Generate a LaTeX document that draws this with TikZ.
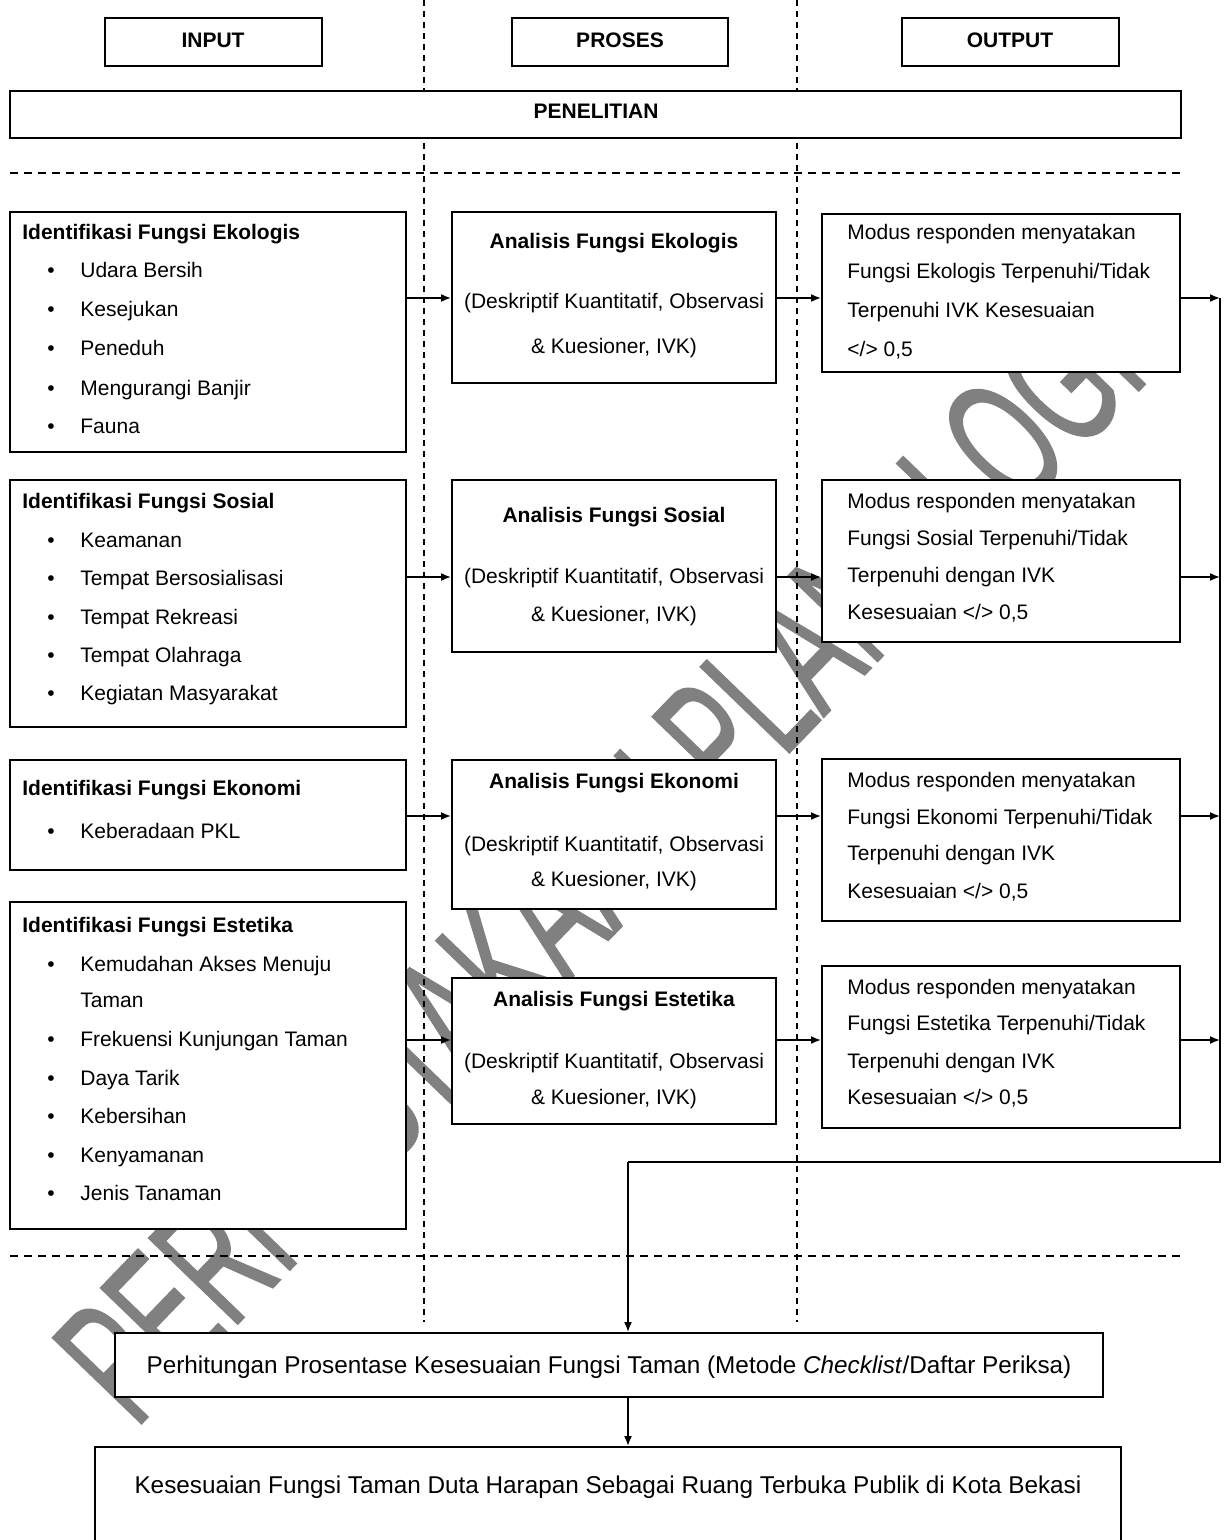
\documentclass[tikz,border=0pt]{standalone}
\usepackage{fontspec}
\setmainfont{Liberation Sans}
\newfontfamily\wmfont[FakeBold=1.2]{Liberation Sans}
\usetikzlibrary{arrows.meta,fit}
\newcommand\fsz{\fontsize{10.5}{12}\selectfont}
\newcommand\fszb{\fontsize{12.15}{14}\selectfont}
\newcommand\wmsz{\fontsize{89.5}{90}\selectfont}
\begin{document}
\begin{tikzpicture}[x=0.5pt,y=-0.5pt,
  box/.style={draw=black,line width=1pt,fill=white,inner sep=0pt},
  tl/.style={anchor=base west,inner sep=0pt,font=\fsz},
  tb/.style={anchor=base west,inner sep=0pt,font=\fsz\bfseries},
  tc/.style={anchor=base,inner sep=0pt,font=\fsz},
  tcb/.style={anchor=base,inner sep=0pt,font=\fsz\bfseries},
  tbig/.style={anchor=base,inner sep=0pt,font=\fszb},
  bul/.style={anchor=base west,inner sep=0pt,font=\fsz},
  arr/.style={line width=0.8pt,-{Latex[length=5pt,width=4pt]}},
  ln/.style={line width=0.8pt},
  hdash/.style={line width=0.6pt,dash pattern=on 4pt off 3pt},
  vdash/.style={line width=0.6pt,dash pattern=on 3pt off 2.5pt}]
\clip (0,0) rectangle (1226,1540);
\fill[white] (0,0) rectangle (1226,1540);

% watermark
\node[anchor=base west,rotate=46,inner sep=0pt,text=black!50,font=\wmfont\wmsz] (wm) at (135,1430)
  {\scalebox{0.58}[1]{PERPUSTAKAAN PLANOLOGI}};

% dashed guide lines
\coordinate (v1t) at (424,0);  \coordinate (v1b) at (424,1322);
\coordinate (v2t) at (797,0);  \coordinate (v2b) at (797,1322);
\coordinate (h1l) at (10,173); \coordinate (h1r) at (1181,173);
\coordinate (h2l) at (10,1256); \coordinate (h2r) at (1181,1256);
\draw[vdash] (v1t) -- (v1b);
\draw[vdash] (v2t) -- (v2b);
\draw[hdash] (h1l) -- (h1r);
\draw[hdash] (h2l) -- (h2r);

% header boxes
\node[box,fit={(105,18)(322,66)}] (hin) {};
\node[box,fit={(512,18)(728,66)}] (hpr) {};
\node[box,fit={(902,18)(1119,66)}] (hout) {};
\node[box,fit={(10,91)(1181,138)}] (pen) {};
\node[tcb] (thin) at (213,48) {INPUT};
\node[tcb] (thpr) at (620,48) {PROSES};
\node[tcb] (thout) at (1010,48) {OUTPUT};
\node[tcb] (tpen) at (596,119) {PENELITIAN};

% input boxes
\node[box,fit={(10,212)(406,452)}] (in1) {};
\node[box,fit={(10,480)(406,727)}] (in2) {};
\node[box,fit={(10,760)(406,870)}] (in3) {};
\node[box,fit={(10,902)(406,1229)}] (in4) {};
% process boxes
\node[box,fit={(452,212)(776,383)}] (pr1) {};
\node[box,fit={(452,480)(776,652)}] (pr2) {};
\node[box,fit={(452,760)(776,909)}] (pr3) {};
\node[box,fit={(452,978)(776,1124)}] (pr4) {};
% output boxes
\node[box,fit={(822,214)(1180,372)}] (ou1) {};
\node[box,fit={(822,480)(1180,642)}] (ou2) {};
\node[box,fit={(822,759)(1180,921)}] (ou3) {};
\node[box,fit={(822,966)(1180,1128)}] (ou4) {};
% bottom boxes
\node[box,fit={(115,1333)(1103,1397)}] (calc) {};
\node[box,fit={(95,1447)(1121,1560)}] (res) {};

% input texts
\node[tb] (i1h) at (22,240) {Identifikasi Fungsi Ekologis};
\node[bul] (i1b1) at (47,278) {\textbullet}; \node[tl] (i1t1) at (80,278) {Udara Bersih};
\node[bul] (i1b2) at (47,317) {\textbullet}; \node[tl] (i1t2) at (80,317) {Kesejukan};
\node[bul] (i1b3) at (47,356) {\textbullet}; \node[tl] (i1t3) at (80,356) {Peneduh};
\node[bul] (i1b4) at (47,395) {\textbullet}; \node[tl] (i1t4) at (80,395) {Mengurangi Banjir};
\node[bul] (i1b5) at (47,433) {\textbullet}; \node[tl] (i1t5) at (80,433) {Fauna};

\node[tb] (i2h) at (22,508) {Identifikasi Fungsi Sosial};
\node[bul] (i2b1) at (47,547) {\textbullet}; \node[tl] (i2t1) at (80,547) {Keamanan};
\node[bul] (i2b2) at (47,585) {\textbullet}; \node[tl] (i2t2) at (80,585) {Tempat Bersosialisasi};
\node[bul] (i2b3) at (47,624) {\textbullet}; \node[tl] (i2t3) at (80,624) {Tempat Rekreasi};
\node[bul] (i2b4) at (47,662) {\textbullet}; \node[tl] (i2t4) at (80,662) {Tempat Olahraga};
\node[bul] (i2b5) at (47,700) {\textbullet}; \node[tl] (i2t5) at (80,700) {Kegiatan Masyarakat};

\node[tb] (i3h) at (22,795) {Identifikasi Fungsi Ekonomi};
\node[bul] (i3b1) at (47,838) {\textbullet}; \node[tl] (i3t1) at (80,838) {Keberadaan PKL};

\node[tb] (i4h) at (22,932) {Identifikasi Fungsi Estetika};
\node[bul] (i4b1) at (47,971) {\textbullet}; \node[tl] (i4t1) at (80,971) {Kemudahan Akses Menuju};
\node[tl] (i4t1b) at (80,1007) {Taman};
\node[bul] (i4b2) at (47,1046) {\textbullet}; \node[tl] (i4t2) at (80,1046) {Frekuensi Kunjungan Taman};
\node[bul] (i4b3) at (47,1085) {\textbullet}; \node[tl] (i4t3) at (80,1085) {Daya Tarik};
\node[bul] (i4b4) at (47,1123) {\textbullet}; \node[tl] (i4t4) at (80,1123) {Kebersihan};
\node[bul] (i4b5) at (47,1162) {\textbullet}; \node[tl] (i4t5) at (80,1162) {Kenyamanan};
\node[bul] (i4b6) at (47,1200) {\textbullet}; \node[tl] (i4t6) at (80,1200) {Jenis Tanaman};

% process texts
\node[tcb] (p1h) at (614,249) {Analisis Fungsi Ekologis};
\node[tc] (p1a) at (614,309) {(Deskriptif Kuantitatif, Observasi};
\node[tc] (p1b) at (614,353) {\& Kuesioner, IVK)};
\node[tcb] (p2h) at (614,522) {Analisis Fungsi Sosial};
\node[tc] (p2a) at (614,583) {(Deskriptif Kuantitatif, Observasi};
\node[tc] (p2b) at (614,621) {\& Kuesioner, IVK)};
\node[tcb] (p3h) at (614,788) {Analisis Fungsi Ekonomi};
\node[tc] (p3a) at (614,851) {(Deskriptif Kuantitatif, Observasi};
\node[tc] (p3b) at (614,886) {\& Kuesioner, IVK)};
\node[tcb] (p4h) at (614,1006) {Analisis Fungsi Estetika};
\node[tc] (p4a) at (614,1068) {(Deskriptif Kuantitatif, Observasi};
\node[tc] (p4b) at (614,1104) {\& Kuesioner, IVK)};

% output texts
\node[tl] (o1a) at (847,240) {Modus responden menyatakan};
\node[tl] (o1b) at (847,279) {Fungsi Ekologis Terpenuhi/Tidak};
\node[tl] (o1c) at (847,318) {Terpenuhi IVK Kesesuaian};
\node[tl] (o1d) at (847,357) {</> 0,5};
\node[tl] (o2a) at (847,508) {Modus responden menyatakan};
\node[tl] (o2b) at (847,545) {Fungsi Sosial Terpenuhi/Tidak};
\node[tl] (o2c) at (847,582) {Terpenuhi dengan IVK};
\node[tl] (o2d) at (847,619) {Kesesuaian </> 0,5};
\node[tl] (o3a) at (847,787) {Modus responden menyatakan};
\node[tl] (o3b) at (847,824) {Fungsi Ekonomi Terpenuhi/Tidak};
\node[tl] (o3c) at (847,860) {Terpenuhi dengan IVK};
\node[tl] (o3d) at (847,898) {Kesesuaian </> 0,5};
\node[tl] (o4a) at (847,994) {Modus responden menyatakan};
\node[tl] (o4b) at (847,1030) {Fungsi Estetika Terpenuhi/Tidak};
\node[tl] (o4c) at (847,1068) {Terpenuhi dengan IVK};
\node[tl] (o4d) at (847,1104) {Kesesuaian </> 0,5};

% bottom texts
\node[tbig] (tcalc) at (609,1373) {Perhitungan Prosentase Kesesuaian Fungsi Taman (Metode \textit{Checklist}/Daftar Periksa)};
\node[tbig] (tres) at (608,1493) {Kesesuaian Fungsi Taman Duta Harapan Sebagai Ruang Terbuka Publik di Kota Bekasi};

% connectors
\coordinate (r1) at (0,298);
\coordinate (r2) at (0,577);
\coordinate (r3) at (0,816);
\coordinate (r4) at (0,1040);
\coordinate (bus) at (1220,0);
\coordinate (loopy) at (0,1162);
\coordinate (downx) at (628,0);
\coordinate (busTop) at (bus |- r1);
\coordinate (busBot) at (bus |- loopy);
\coordinate (loopL) at (downx |- loopy);

\draw[arr] (in1.east |- r1) -- (pr1.west |- r1);
\draw[arr] (in2.east |- r2) -- (pr2.west |- r2);
\draw[arr] (in3.east |- r3) -- (pr3.west |- r3);
\draw[arr] (in4.east |- r4) -- (pr4.west |- r4);
\draw[arr] (pr1.east |- r1) -- (ou1.west |- r1);
\draw[arr] (pr2.east |- r2) -- (ou2.west |- r2);
\draw[arr] (pr3.east |- r3) -- (ou3.west |- r3);
\draw[arr] (pr4.east |- r4) -- (ou4.west |- r4);
\draw[arr] (ou1.east |- r1) -- (bus |- r1);
\draw[arr] (ou2.east |- r2) -- (bus |- r2);
\draw[arr] (ou3.east |- r3) -- (bus |- r3);
\draw[arr] (ou4.east |- r4) -- (bus |- r4);
\draw[ln] (busTop) -- (busBot) -- (loopL);
\draw[arr] (loopL) -- (calc.north -| downx);
\draw[arr] (calc.south -| downx) -- (res.north -| downx);
\end{tikzpicture}
\end{document}
